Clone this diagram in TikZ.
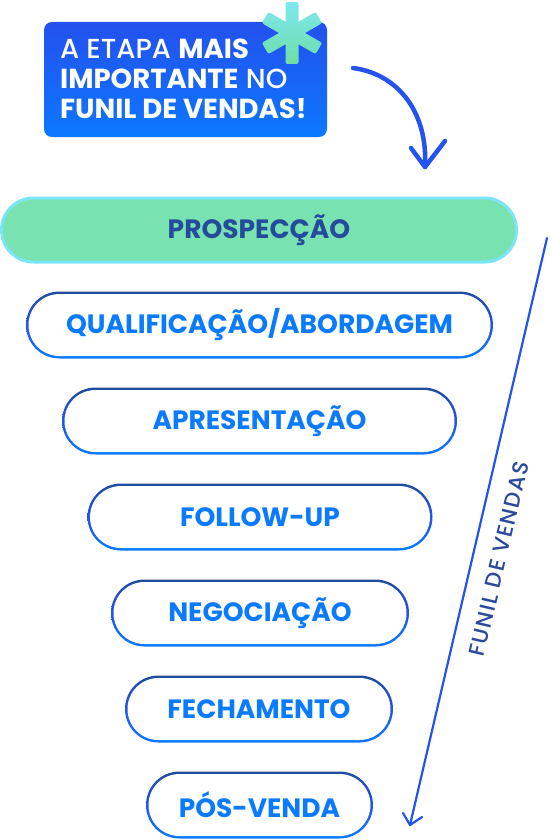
\documentclass[tikz,border=0pt]{standalone}
\usepackage{fontspec}
\setmainfont{Poppins}
\newfontfamily\popmed{Poppins Medium}
\usetikzlibrary{shapes.misc,calc}
\definecolor{boxtop}{HTML}{2450EE}
\definecolor{boxbot}{HTML}{0B78FF}
\definecolor{asttop}{HTML}{7DE8F0}
\definecolor{astbot}{HTML}{6EDDA6}
\definecolor{arrowblue}{HTML}{2453F0}
\definecolor{pilldark}{HTML}{1F4D9C}
\definecolor{pillbright}{HTML}{0A7BFF}
\definecolor{pilltext}{HTML}{0A7BFF}
\definecolor{prosfill}{HTML}{79E2B1}
\definecolor{prosdraw}{HTML}{7CE5F5}
\definecolor{prostext}{HTML}{254B9C}
\definecolor{funtext}{HTML}{2A4A9C}
\tikzset{
  pillouter/.style={rounded rectangle, inner sep=0pt, minimum height=67pt,
    top color=pilldark, bottom color=pillbright, middle color=arrowblue},
  pillinner/.style={rounded rectangle, inner sep=0pt, minimum height=62pt,
    fill=white, text=pilltext, font=\fontsize{26.5}{28}\selectfont\bfseries},
  bluearrow/.style={draw=arrowblue, line cap=round, line join=round},
}
\newcommand{\mypill}[5]{%
  \node[pillouter, minimum width=#4pt] (#1) at (#2,#3) {};
  \node[pillinner, minimum width=#4pt-5pt] (#1-in) at (#2,#3) {#5};
}
\begin{document}
\begin{tikzpicture}[x=1pt,y=-1pt]
\useasboundingbox (0,0) rectangle (549,840);
% header box
\node[rounded corners=8pt, minimum width=283pt, minimum height=115pt, inner sep=0pt,
  top color=boxtop, bottom color=boxbot] (box) at (185.5,79.5) {};
\node[anchor=west, align=left, text=white, inner sep=0pt,
  font=\fontsize{27.5}{30}\selectfont] (boxtext) at (60,79)
  {{\popmed A ETAPA} \textbf{MAIS}\\\textbf{IMPORTANTE} {\popmed NO}\\\textbf{FUNIL DE VENDAS!}};
% asterisk
\coordinate (ast) at (292,33);
\shade[top color=asttop, bottom color=astbot, rounded corners=2pt, shift={(ast)}]
  (18.16:31.67) -- (41.84:31.67) -- (198.16:31.67) -- (221.84:31.67) -- cycle
  (78.16:31.67) -- (101.84:31.67) -- (258.16:31.67) -- (281.84:31.67) -- cycle
  (138.16:31.67) -- (161.84:31.67) -- (318.16:31.67) -- (341.84:31.67) -- cycle;
% curved arrow
\coordinate (cstart) at (353,68);
\coordinate (ctip) at (425,167);
\coordinate (cbl) at (411,148);
\coordinate (cbr) at (445,141);
\draw[bluearrow, line width=4.5pt] (cstart) .. controls (398,74) and (428,112) .. (ctip);
\draw[bluearrow, line width=4.5pt] (cbl) -- (ctip) -- (cbr);
% prospeccao
\node[rounded rectangle, inner sep=0pt, minimum width=515pt, minimum height=64pt,
  fill=prosfill, draw=prosdraw, line width=3pt, text=prostext,
  font=\fontsize{26.5}{28}\selectfont\bfseries] (pros) at (259,230) {PROSPECÇÃO};
% pills
\mypill{qual}{259.5}{325}{467}{QUALIFICAÇÃO/ABORDAGEM}
\mypill{apres}{259.5}{421}{395}{APRESENTAÇÃO}
\mypill{follow}{260}{517}{345}{FOLLOW-UP}
\mypill{neg}{260}{613}{298}{NEGOCIAÇÃO}
\mypill{fech}{259}{709}{268}{FECHAMENTO}
\mypill{pos}{259.5}{805}{227}{PÓS-VENDA}
% funnel arrow
\coordinate (ftop) at (547,238);
\coordinate (fbot) at (410,825);
\coordinate (fbl) at (403,813);
\coordinate (fbr) at (422,817);
\draw[bluearrow, line width=2.2pt] (ftop) -- (fbot);
\draw[bluearrow, line width=2.2pt] (fbl) -- (fbot) -- (fbr);
\node[rotate=76.9, text=funtext, inner sep=0pt,
  font=\popmed\fontsize{22}{24}\selectfont\addfontfeature{LetterSpace=6}] (funil) at (499,559) {FUNIL DE VENDAS};
\end{tikzpicture}
\end{document}
